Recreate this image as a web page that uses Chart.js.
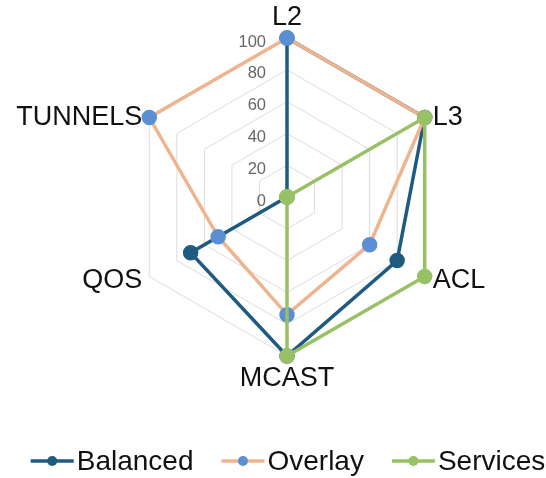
<!DOCTYPE html>
<html>
<head>
<meta charset="utf-8">
<script src="https://cdn.jsdelivr.net/npm/chart.js@4"></script>
<style>
  html, body { margin: 0; padding: 0; background: #fff; }
  #wrap { width: 546px; height: 478px; }
</style>
</head>
<body>
<div id="wrap"><canvas id="radar"></canvas></div>
<script>
// radar of feature weights per profile

const axes = ['L2', 'L3', 'ACL', 'MCAST', 'QOS', 'TUNNELS'];
const tickValues = [0, 20, 40, 60, 80, 100];

const balanced = [100, 100, 80, 100, 70, 0];
const overlay  = [100, 100, 60, 74, 50, 100];
const services = [0, 100, 100, 100, 0, 0];

const FONT = "'Liberation Sans', Arial, Helvetica, sans-serif";

// tick labels sit left of the vertical axis, no backdrop
const tickLabels = {
    id: 'tickLabels',
    beforeDatasetsDraw(chart) {
        const r = chart.scales.r;
        const ctx = chart.ctx;
        ctx.save();
        ctx.font = '16.5px ' + FONT;
        ctx.fillStyle = '#666';
        ctx.textAlign = 'right';
        ctx.textBaseline = 'middle';
        tickValues.forEach(v => {
            const p = r.getPointPositionForValue(0, v);
            ctx.fillText(String(v), p.x - 21, p.y + 4);
        });
        ctx.restore();
    }
};

// axis names drawn next to the outer vertex, centred on it sideways
const axisLabels = {
    id: 'axisLabels',
    afterDatasetsDraw(chart) {
        const r = chart.scales.r;
        const ctx = chart.ctx;
        ctx.save();
        ctx.font = '27px ' + FONT;
        ctx.fillStyle = '#111';
        ctx.textBaseline = 'middle';
        axes.forEach((name, i) => {
            const p = r.getPointPositionForValue(i, 100);
            const dx = p.x - r.xCenter;
            if (Math.abs(dx) < 1) {
                ctx.textAlign = 'center';
                ctx.fillText(name, p.x, p.y + (p.y < r.yCenter ? -20 : 23));
            } else {
                ctx.textAlign = dx > 0 ? 'left' : 'right';
                const yOff = p.y > r.yCenter ? 4 : 0;
                ctx.fillText(name, p.x + (dx > 0 ? 8 : -7), p.y + yOff);
            }
        });
        ctx.restore();
    }
};

// legend: line with dot, then the name, centred under the radar
const lineLegend = {
    id: 'lineLegend',
    afterDraw(chart) {
        const ctx = chart.ctx;
        const r = chart.scales.r;
        const sw = 43, gapText = 3, gapItem = 28, y = 461;
        ctx.save();
        ctx.font = '28px ' + FONT;
        ctx.textBaseline = 'middle';
        ctx.textAlign = 'left';
        const sets = chart.data.datasets;
        const widths = sets.map(ds => sw + gapText + ctx.measureText(ds.label).width);
        const total = widths.reduce((a, b) => a + b, 0) + gapItem * (sets.length - 1);
        let x = r.xCenter + 1 - total / 2;
        sets.forEach((ds, i) => {
            ctx.strokeStyle = ds.borderColor;
            ctx.lineWidth = 3.5;
            ctx.beginPath();
            ctx.moveTo(x, y);
            ctx.lineTo(x + sw, y);
            ctx.stroke();
            ctx.fillStyle = ds.pointBackgroundColor;
            ctx.beginPath();
            ctx.arc(x + sw / 2, y, 5, 0, Math.PI * 2);
            ctx.fill();
            ctx.fillStyle = '#111';
            ctx.fillText(ds.label, x + sw + gapText, y + 1);
            x += widths[i] + gapItem;
        });
        ctx.restore();
    }
};

const mk = (label, data, line, dot, order) => ({
    label: label,
    data: data,
    borderColor: line,
    backgroundColor: 'transparent',
    pointBackgroundColor: dot,
    pointBorderColor: dot,
    borderWidth: 3.5,
    pointRadius: 6,
    pointHoverRadius: 6,
    fill: false,
    order: order
});

new Chart(document.getElementById('radar'), {
    type: 'radar',
    data: {
        labels: axes,
        datasets: [
            mk('Balanced', balanced, '#1f5b81', '#1f5b81', 2),
            mk('Overlay', overlay, '#efb48f', '#5b8fd3', 1),
            mk('Services', services, '#98c065', '#98c065', 0)
        ]
    },
    options: {
        responsive: true,
        maintainAspectRatio: false,
        animation: false,
        layout: { padding: { left: 28, right: 0, top: 38, bottom: 122 } },
        plugins: {
            tooltip: { enabled: false },
            legend: { display: false }
        },
        scales: {
            r: {
                min: 0,
                max: 100,
                beginAtZero: true,
                angleLines: { display: false },
                grid: { color: '#dcdcdc', lineWidth: 1 },
                ticks: { stepSize: 20, display: false },
                pointLabels: { display: false }
            }
        }
    },
    plugins: [tickLabels, axisLabels, lineLegend]
});
</script>
</body>
</html>
